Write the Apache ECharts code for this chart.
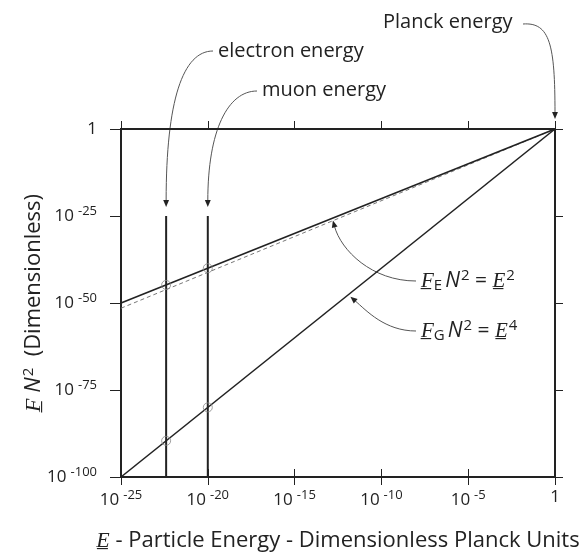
<!DOCTYPE html>
<html>
<head>
<meta charset="UTF-8">
<title>Force vs particle energy</title>
<script src="https://cdn.jsdelivr.net/npm/echarts@6/dist/echarts.min.js"></script>
</head>
<body style="margin:0; background:#fff;">
<div id="main" style="width:583px; height:555px;"></div>
<script>
// every value is a log10 exponent (E and F N^2 in Planck units)
var xMin = -25, xMax = 0, xStep = 5;
var yMin = -100, yMax = 0, yStep = 25;

var lineLogE = [-25, 0];
var feLogF = [-50, 0];          // F_E N^2 = E^2
var fgLogF = [-100, 0];         // F_G N^2 = E^4
var dashLogE = [-25, 0];
var dashLogF = [-51.5, 0];

var particleNames = ['electron energy', 'muon energy'];
var particleLogE = [-22.4, -20.0];
var feCircleLogF = [-44.8, -40.0];
var fgCircleLogF = [-89.6, -80.0];
var markerTop = -25;

var FONT = 'Open Sans';
var INK = '#222';

function pairs(xs, ys) {
    return xs.map(function (x, i) { return [x, ys[i]]; });
}

function powLabel(v) {
    if (v === 0) return '{b|1}';
    return '{b|10}{s|' + v + '}';
}

var tickRich = {
    b: {fontFamily: FONT, fontSize: 17, color: INK},
    s: {fontFamily: FONT, fontSize: 13, color: INK, padding: [0, 0, 10, 4]}
};

var hiddenLabel = {show: true, color: 'rgba(0,0,0,0)', fontSize: 8};

function xTickAxis(pos, offset, len) {
    return {
        type: 'value', min: xMin, max: xMax, interval: xStep, position: pos, offset: offset,
        axisLine: {show: false, onZero: false}, splitLine: {show: false}, axisLabel: hiddenLabel,
        axisTick: {show: true, length: len, lineStyle: {color: INK, width: 1}}
    };
}
function yTickAxis(pos, offset, len) {
    return {
        type: 'value', min: yMin, max: yMax, interval: yStep, position: pos, offset: offset,
        axisLine: {show: false, onZero: false}, splitLine: {show: false}, axisLabel: hiddenLabel,
        axisTick: {show: true, length: len, lineStyle: {color: INK, width: 1}}
    };
}

// bottom ticks cross the frame: axis pushed 8px inside, ticks 16px long
var xMain = xTickAxis('bottom', -8, 16);
xMain.axisLabel = {show: true, margin: 20, formatter: powLabel, rich: tickRich};
xMain.name = '{i|E\u0332} - Particle Energy - Dimensionless Planck Units';
xMain.nameLocation = 'middle';
xMain.nameGap = 61;
xMain.nameTextStyle = {
    fontFamily: FONT, fontSize: 22, color: INK,
    rich: {i: {fontFamily: FONT, fontSize: 22, fontStyle: 'italic', color: INK}}
};

var yMain = yTickAxis('left', 0, 11);
yMain.axisLabel = {show: true, margin: 24, formatter: powLabel, rich: tickRich};
yMain.name = '{i|F\u0332} {i|N}{s|2}  (Dimensionless)';
yMain.nameLocation = 'middle';
yMain.nameGap = 74;
yMain.nameMoveOverlap = false;
yMain.nameRotate = 90;
yMain.nameTextStyle = {
    fontFamily: FONT, fontSize: 22, color: INK,
    rich: {
        i: {fontFamily: FONT, fontSize: 22, fontStyle: 'italic', color: INK},
        s: {fontFamily: FONT, fontSize: 15, color: INK, padding: [0, 0, 11, 1]}
    }
};

// top and right: frame line drawn by the axis itself, ticks outward
var xTop = xTickAxis('top', 0, 8);
xTop.axisLine = {show: true, onZero: false, lineStyle: {color: INK, width: 2}};
var yRight = yTickAxis('right', 0, 8);
yRight.axisLine = {show: true, onZero: false, lineStyle: {color: INK, width: 2}};

var markerSeries = particleLogE.map(function (x, i) {
    return {
        type: 'line', name: particleNames[i],
        data: [[x, yMin], [x, markerTop]],
        symbol: 'none', lineStyle: {color: INK, width: 2}, z: 3
    };
});

var circleData = pairs(particleLogE, feCircleLogF).concat(pairs(particleLogE, fgCircleLogF));

var chart = echarts.init(document.getElementById('main'), null, {renderer: 'canvas'});

var option = {
    animation: false,
    grid: {
        left: 121, right: 28, top: 129, bottom: 78,
        show: true, borderColor: INK, borderWidth: 2,
        outerBoundsMode: 'none'
    },
    xAxis: [xMain, xTop],
    yAxis: [yMain, yRight],
    series: [{
        type: 'line', name: 'FE', data: pairs(lineLogE, feLogF),
        symbol: 'none', lineStyle: {color: INK, width: 1.6}, z: 3
    }, {
        type: 'line', name: 'dashed', data: pairs(dashLogE, dashLogF),
        xAxisIndex: 1, yAxisIndex: 1,
        symbol: 'none', lineStyle: {color: '#777', width: 1, type: [4, 3]}, z: 2
    }, {
        type: 'line', name: 'FG', data: pairs(lineLogE, fgLogF),
        symbol: 'none', lineStyle: {color: INK, width: 1.6}, z: 3
    }].concat(markerSeries).concat([{
        type: 'scatter', name: 'points', data: circleData,
        symbol: 'circle', symbolSize: 9,
        itemStyle: {color: 'rgba(255,255,255,0)', borderColor: '#888', borderWidth: 1}, z: 5
    }])
};

chart.setOption(option);

// annotation arrows, tips located through the axes
function px(x, y) { return chart.convertToPixel({xAxisIndex: 0, yAxisIndex: 0}, [x, y]); }

function arrowHead(tip, from, size) {
    var dx = tip[0] - from[0], dy = tip[1] - from[1];
    var len = Math.sqrt(dx * dx + dy * dy);
    dx /= len; dy /= len;
    var bx = tip[0] - dx * size, by = tip[1] - dy * size;
    var w = size * 0.42;
    return {
        type: 'polygon',
        shape: {points: [tip, [bx - dy * w, by + dx * w], [bx + dy * w, by - dx * w]]},
        style: {fill: INK}
    };
}

function curvedArrow(start, cp1, cp2, tip) {
    var dx = tip[0] - cp2[0], dy = tip[1] - cp2[1];
    var len = Math.sqrt(dx * dx + dy * dy);
    var end = [tip[0] - dx / len * 6, tip[1] - dy / len * 6];
    return [{
        type: 'bezierCurve',
        shape: {x1: start[0], y1: start[1], cpx1: cp1[0], cpy1: cp1[1],
                cpx2: cp2[0], cpy2: cp2[1], x2: end[0], y2: end[1]},
        style: {stroke: '#555', lineWidth: 1, fill: null}
    }, arrowHead(tip, cp2, 7)];
}

function label(text, x, y, rich) {
    return {
        type: 'text', x: x, y: y,
        style: {text: text, fontFamily: FONT, fontSize: 20, fill: INK,
                verticalAlign: 'middle', rich: rich}
    };
}

var corner = px(xMax, yMax);
var eTop = px(particleLogE[0], markerTop);
var mTop = px(particleLogE[1], markerTop);
var feTip = px(-12.85, -25.7);
var fgTip = px(-11.9, -47.6);
feTip = [feTip[0] + 1, feTip[1] + 2];
fgTip = [fgTip[0] + 2, fgTip[1] + 2];

var eqRich = {
    i: {fontFamily: FONT, fontSize: 21, fontStyle: 'italic', fill: INK},
    n: {fontFamily: FONT, fontSize: 21, fill: INK},
    d: {fontFamily: FONT, fontSize: 15, fill: INK, padding: [9, 3, 0, 0]},
    s: {fontFamily: FONT, fontSize: 15, fill: INK, padding: [0, 0, 11, 1]}
};

var g = [];
g = g.concat(curvedArrow([523, 24], [550, 22], [corner[0], 45], [corner[0], corner[1] - 10]));
g = g.concat(curvedArrow([213, 51], [183, 51], [eTop[0], 100], [eTop[0], eTop[1] - 9]));
g = g.concat(curvedArrow([257, 91], [228, 91], [mTop[0], 130], [mTop[0], mTop[1] - 9]));
g = g.concat(curvedArrow([416, 281], [372, 281], [feTip[0] + 8, feTip[1] + 30], feTip));
g = g.concat(curvedArrow([416, 331], [385, 331], [fgTip[0] + 16, fgTip[1] + 14], fgTip));
g.push(label('Planck energy', 383, 22));
g.push(label(particleNames[0], 218, 51));
g.push(label(particleNames[1], 262, 90));
g.push(label('{i|F\u0332}{d|E}{i|N}{s|2}{n| = }{i|E\u0332}{s|2}', 421, 281, eqRich));
g.push(label('{i|F\u0332}{d|G}{i|N}{s|2}{n| = }{i|E\u0332}{s|4}', 421, 331, eqRich));

chart.setOption({graphic: g});
</script>
</body>
</html>
